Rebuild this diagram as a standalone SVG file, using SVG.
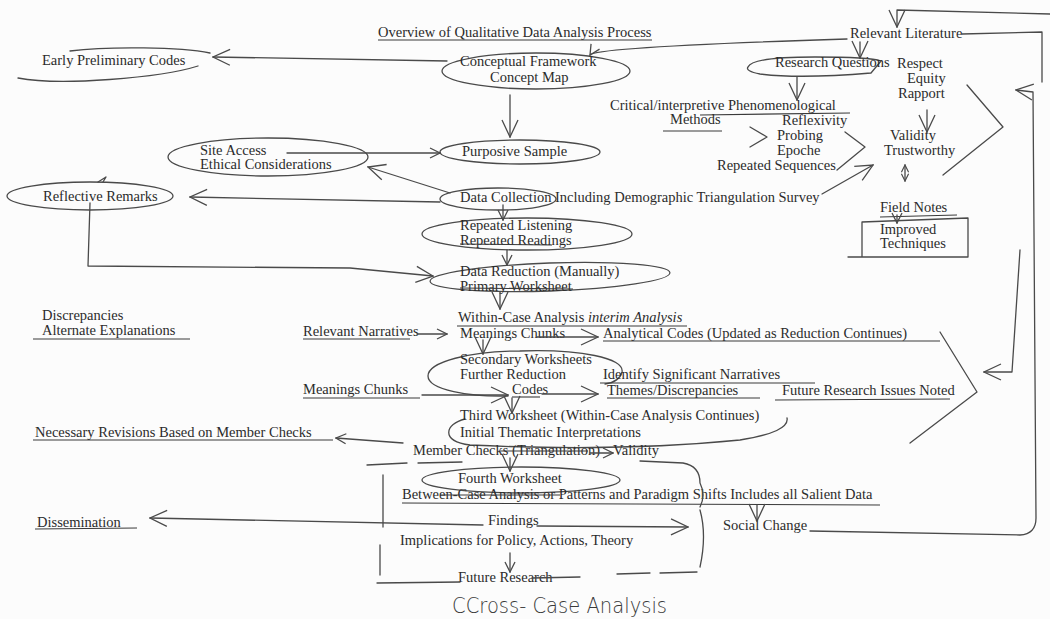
<svg xmlns="http://www.w3.org/2000/svg" width="1050" height="619" viewBox="0 0 1050 619">
<defs>
<style>
.t{font-family:"Liberation Serif","Times New Roman",serif;font-size:14.5px;fill:#2b2b2b}
.ln{stroke:#4a4a4a;stroke-width:1.3;fill:none;stroke-linecap:round;stroke-linejoin:round}
.ul{stroke:#3a3a3a;stroke-width:1.1;fill:none}
.hw{font-family:"DejaVu Sans",sans-serif;font-size:22px;font-weight:200;fill:#3a3a3a}
</style>
<marker id="ah" viewBox="0 0 12 12" refX="11" refY="6" markerWidth="12" markerHeight="12" markerUnits="userSpaceOnUse" orient="auto"><path d="M1,1 L11,6 L1,11" fill="none" stroke="#4a4a4a" stroke-width="1.3"/></marker>
<marker id="ahL" viewBox="0 0 20 20" refX="19" refY="10" markerWidth="20" markerHeight="20" markerUnits="userSpaceOnUse" orient="auto"><path d="M2,2 L19,10 L2,18" fill="none" stroke="#4a4a4a" stroke-width="1.3"/></marker>
<marker id="ahS" viewBox="0 0 10 10" refX="9" refY="5" markerWidth="9" markerHeight="9" markerUnits="userSpaceOnUse" orient="auto-start-reverse"><path d="M1,1 L9,5 L1,9" fill="none" stroke="#4a4a4a" stroke-width="1.3"/></marker>
</defs>
<rect width="1050" height="619" fill="#fcfcfc"/>

<g id="title">
<text class="t" x="378" y="37">Overview of Qualitative Data Analysis Process</text>
<path class="ul" d="M378,40 L652,40"/>
</g>

<g id="relevant-literature"><text class="t" x="850" y="38">Relevant Literature</text></g>

<g id="early-preliminary-codes">
<path class="ln" d="M18,78 C60,86 160,78 198,66 M70,51 C110,46 180,47 210,53"/>
<text class="t" x="42" y="65">Early Preliminary Codes</text>
</g>

<g id="conceptual-framework">
<ellipse class="ln" cx="536" cy="71" rx="94" ry="18"/>
<text class="t" x="460" y="66">Conceptual Framework</text>
<text class="t" x="490" y="82">Concept Map</text>
</g>

<g id="research-questions">
<path class="ln" d="M748,67 Q752,57 815,57 Q870,57 881,61 L871,73 Q800,79 760,74 Q745,71 748,67"/>
<text class="t" x="775" y="67">Research Questions</text>
</g>

<g id="respect-equity-rapport">
<text class="t" x="897" y="68">Respect</text>
<text class="t" x="907" y="83">Equity</text>
<text class="t" x="898" y="98">Rapport</text>
</g>

<g id="methods">
<text class="t" x="610" y="110">Critical/interpretive Phenomenological</text>
<path class="ul" d="M700,115 L850,113"/>
<text class="t" x="670" y="124">Methods</text>
<path class="ul" d="M663,131 L722,131"/>
</g>

<g id="reflexivity">
<text class="t" x="782" y="125">Reflexivity</text>
<text class="t" x="777" y="140">Probing</text>
<text class="t" x="777" y="155">Epoche</text>
<text class="t" x="717" y="170">Repeated Sequences</text>
</g>

<g id="validity">
<text class="t" x="890" y="140">Validity</text>
<text class="t" x="884" y="155">Trustworthy</text>
</g>

<g id="site-access">
<ellipse class="ln" cx="268" cy="157" rx="100" ry="19"/>
<text class="t" x="200" y="155">Site Access</text>
<text class="t" x="200" y="169">Ethical Considerations</text>
</g>

<g id="purposive-sample">
<ellipse class="ln" cx="520" cy="152" rx="80" ry="12"/>
<text class="t" x="462" y="156">Purposive Sample</text>
</g>

<g id="reflective-remarks">
<ellipse class="ln" cx="90" cy="196" rx="83" ry="14"/>
<path class="ln" d="M98,182 L106,177 M103,182 L106,177"/>
<text class="t" x="43" y="201">Reflective Remarks</text>
</g>

<g id="data-collection">
<ellipse class="ln" cx="498" cy="199" rx="58" ry="11"/>
<text class="t" x="460" y="202">Data Collection Including Demographic Triangulation Survey</text>
</g>

<g id="field-notes">
<text class="t" x="880" y="212">Field Notes</text>
<path class="ul" d="M880,217 L957,215"/>
</g>

<g id="improved-techniques">
<path class="ln" d="M862,222 L968,218 L968,257 L848,257 M862,222 L862,257"/>
<text class="t" x="880" y="234">Improved</text>
<text class="t" x="880" y="248">Techniques</text>
</g>

<g id="repeated-listening">
<ellipse class="ln" cx="527" cy="234" rx="105" ry="16"/>
<text class="t" x="460" y="230">Repeated Listening</text>
<text class="t" x="460" y="245">Repeated Readings</text>
<path class="ul" d="M460,244 L552,245"/>
</g>

<g id="data-reduction">
<ellipse class="ln" cx="550" cy="277" rx="120" ry="14" transform="rotate(-2 550 277)"/>
<text class="t" x="460" y="276">Data Reduction (Manually)</text>
<text class="t" x="460" y="291">Primary Worksheet</text>
<path class="ul" d="M460,288 L573,289"/>
</g>

<g id="discrepancies">
<text class="t" x="42" y="320">Discrepancies</text>
<text class="t" x="42" y="335">Alternate Explanations</text>
<path class="ul" d="M33,339 L190,339"/>
</g>

<g id="within-case">
<text class="t" x="458" y="322">Within-Case Analysis <tspan font-style="italic">interim Analysis</tspan></text>
<path class="ul" d="M457,326 L687,326"/>
</g>

<g id="relevant-narratives">
<text class="t" x="303" y="336">Relevant Narratives</text>
<path class="ul" d="M303,339 L410,339"/>
</g>

<g id="meanings-chunks"><text class="t" x="460" y="338">Meanings Chunks</text></g>

<g id="analytical-codes">
<text class="t" x="603" y="338">Analytical Codes (Updated as Reduction Continues)</text>
<path class="ul" d="M603,341 L940,341"/>
</g>

<g id="secondary-worksheets">
<path class="ln" d="M520,351 C580,349 625,358 622,372 C620,380 612,383 605,384 M520,351 C470,351 428,362 428,376 C428,390 470,397 508,396"/>
<text class="t" x="460" y="364">Secondary Worksheets</text>
<text class="t" x="460" y="379">Further Reduction</text>
<text class="t" x="512" y="394">Codes</text>
<path class="ul" d="M512,397 L540,397"/>
</g>

<g id="meanings-chunks-2">
<text class="t" x="303" y="394">Meanings Chunks</text>
<path class="ul" d="M303,398 L420,398"/>
</g>

<g id="identify-narratives">
<text class="t" x="603" y="379">Identify Significant Narratives</text>
<path class="ul" d="M600,383 L815,383"/>
</g>

<g id="themes-discrepancies">
<text class="t" x="607" y="395">Themes/Discrepancies</text>
<path class="ul" d="M607,398 L760,398"/>
</g>

<g id="future-issues">
<text class="t" x="782" y="395">Future Research Issues Noted</text>
<path class="ul" d="M775,400 L950,399"/>
</g>

<g id="third-worksheet">
<path class="ln" d="M465,419 C445,424 440,441 470,445 Q620,452 740,440 Q790,432 787,418"/>
<text class="t" x="460" y="420">Third Worksheet (Within-Case Analysis Continues)</text>
<text class="t" x="460" y="437">Initial Thematic Interpretations</text>
</g>

<g id="necessary-revisions">
<text class="t" x="35" y="437">Necessary Revisions Based on Member Checks</text>
<path class="ul" d="M33,440 L333,440"/>
</g>

<g id="member-checks">
<text class="t" x="413" y="455">Member Checks (Triangulation)</text>
<path class="ul" d="M500,451 L588,451"/>
<text class="t" x="613" y="455">Validity</text>
</g>

<g id="fourth-worksheet">
<ellipse class="ln" cx="521" cy="480" rx="99" ry="13"/>
<text class="t" x="458" y="483">Fourth Worksheet</text>
</g>

<g id="between-case">
<text class="t" x="402" y="499">Between-Case Analysis or Patterns and Paradigm Shifts Includes all Salient Data</text>
<path class="ul" d="M402,503 L880,505 M440,495 L560,495"/>
</g>

<g id="social-change"><text class="t" x="723" y="530">Social Change</text></g>

<g id="findings"><text class="t" x="488" y="525">Findings</text></g>

<g id="dissemination">
<text class="t" x="37" y="527">Dissemination</text>
<path class="ul" d="M35,529 L137,528"/>
</g>

<g id="implications"><text class="t" x="400" y="545">Implications for Policy, Actions, Theory</text></g>

<g id="future-research"><text class="t" x="458" y="582">Future Research</text></g>

<g id="cross-case-bracket">
<path class="ln" d="M367,465 L407,463 M418,463 L462,462 M640,461 L683,463 M683,463 Q700,466 700,483 Q706,495 700,507 M700,510 Q707,535 700,567 M383,475 L383,527 M380,545 L380,575 M377,583 L460,582 M532,578 L580,577 M617,574 L650,573 M660,573 L697,572"/>
<text class="hw" x="452" y="613" textLength="215" lengthAdjust="spacingAndGlyphs">CCross- Case Analysis</text>
</g>

<g id="connectors">
<path class="ln" d="M447,61 L213,57" marker-end="url(#ahL)"/>
<path class="ln" d="M847,39 Q595,47 590,55" marker-end="url(#ah)"/>
<path class="ln" d="M860,42 L860,58" marker-end="url(#ahL)"/>
<path class="ln" d="M1050,14 L897,10 L897,27" marker-end="url(#ahL)"/>
<path class="ln" d="M962,34 L1042,32 L1042,82"/>
<path class="ln" d="M810,531 L1020,535 Q1036,534 1036,518 L1033,92 L1016,90" marker-end="url(#ahL)"/>
<path class="ln" d="M797,77 L797,100" marker-end="url(#ahL)"/>
<path class="ln" d="M927,110 L927,132" marker-end="url(#ahL)"/>
<path class="ln" d="M750,127 L767,137 L750,147"/>
<path class="ln" d="M845,132 L865,147 L837,170"/>
<path class="ln" d="M822,194 L873,165" marker-end="url(#ahL)"/>
<path class="ln" d="M967,85 L1003,127 L943,175"/>
<path class="ln" d="M905,165 L905,181" marker-start="url(#ahS)" marker-end="url(#ahS)"/>
<path class="ln" d="M897,215 L897,223" marker-end="url(#ah)"/>
<path class="ln" d="M510,95 L510,137" marker-end="url(#ahL)"/>
<path class="ln" d="M287,153 L440,153" marker-end="url(#ah)"/>
<path class="ln" d="M450,193 L368,167" marker-end="url(#ahL)"/>
<path class="ln" d="M440,202 L190,197" marker-end="url(#ahL)"/>
<path class="ln" d="M503,205 L503,220" marker-end="url(#ah)"/>
<path class="ln" d="M507,250 L507,265" marker-end="url(#ah)"/>
<path class="ln" d="M90,203 L88,266 L350,268 L433,276" marker-end="url(#ahL)"/>
<path class="ln" d="M500,292 L500,309" marker-end="url(#ahL)"/>
<path class="ln" d="M417,334 L447,334" marker-end="url(#ah)"/>
<path class="ln" d="M537,337 L598,337" marker-end="url(#ahL)"/>
<path class="ln" d="M483,340 L483,354" marker-end="url(#ahL)"/>
<path class="ln" d="M422,395 L508,395" marker-end="url(#ahL)"/>
<path class="ln" d="M542,394 L598,394" marker-end="url(#ahL)"/>
<path class="ln" d="M512,398 L512,413" marker-end="url(#ahL)"/>
<path class="ln" d="M940,332 L977,392 L910,443"/>
<path class="ln" d="M1020,250 L1012,372 L984,372" marker-end="url(#ahL)"/>
<path class="ln" d="M403,443 L336,438" marker-end="url(#ah)"/>
<path class="ln" d="M590,453 L613,453" marker-end="url(#ah)"/>
<path class="ln" d="M510,458 L510,471" marker-end="url(#ahL)"/>
<path class="ln" d="M757,505 L757,521" marker-end="url(#ahL)"/>
<path class="ln" d="M483,525 L150,518" marker-end="url(#ahL)"/>
<path class="ln" d="M537,526 L688,527" marker-end="url(#ahL)"/>
<path class="ln" d="M510,553 L510,572" marker-end="url(#ah)"/>
</g>
</svg>
